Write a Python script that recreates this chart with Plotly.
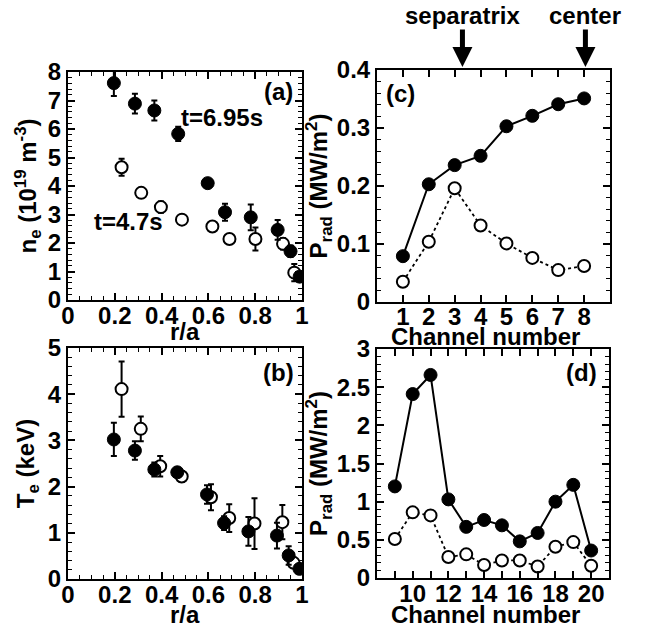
import plotly.graph_objects as go

W, H = 648, 633
FONT = "Liberation Sans"

# ---------------- data ----------------
# (a) electron density
ne_r_695 = [0.196, 0.286, 0.369, 0.471, 0.597, 0.671, 0.781, 0.896, 0.951, 0.990]
ne_695 = [7.61, 6.89, 6.65, 5.83, 4.10, 3.08, 2.90, 2.46, 1.71, 0.82]
ne_err_695 = [0.45, 0.35, 0.35, 0.25, 0.15, 0.30, 0.45, 0.35, 0.20, 0.10]
ne_r_47 = [0.229, 0.313, 0.397, 0.487, 0.617, 0.690, 0.801, 0.919, 0.967]
ne_47 = [4.66, 3.76, 3.26, 2.82, 2.58, 2.14, 2.14, 1.97, 0.96]
ne_err_47 = [0.30, 0.10, 0.20, 0.10, 0.10, 0.10, 0.40, 0.20, 0.30]

# (b) electron temperature
te_r_695 = [0.196, 0.286, 0.369, 0.467, 0.594, 0.667, 0.771, 0.893, 0.943, 0.989]
te_695 = [3.02, 2.78, 2.37, 2.31, 1.83, 1.21, 1.03, 0.94, 0.51, 0.22]
te_err_695 = [0.36, 0.20, 0.15, 0.10, 0.20, 0.15, 0.31, 0.28, 0.20, 0.05]
te_r_47 = [0.229, 0.311, 0.394, 0.486, 0.611, 0.689, 0.797, 0.916, 0.964]
te_47 = [4.11, 3.25, 2.44, 2.22, 1.77, 1.32, 1.20, 1.23, 0.35]
te_err_47 = [0.60, 0.27, 0.22, 0.12, 0.28, 0.30, 0.55, 0.37, 0.10]

# (c) radiated power, channels 1-8
ch_c = [1, 2, 3, 4, 5, 6, 7, 8]
prad_c_695 = [0.079, 0.203, 0.236, 0.252, 0.303, 0.321, 0.341, 0.351]
prad_c_47 = [0.035, 0.104, 0.196, 0.132, 0.101, 0.076, 0.055, 0.062]

# (d) radiated power, channels 9-20
ch_d = [9, 10, 11, 12, 13, 14, 15, 16, 17, 18, 19, 20]
prad_d_695 = [1.20, 2.41, 2.66, 1.03, 0.67, 0.76, 0.69, 0.48, 0.59, 1.00, 1.22, 0.36]
prad_d_47 = [0.51, 0.86, 0.82, 0.275, 0.31, 0.17, 0.23, 0.23, 0.15, 0.41, 0.47, 0.16]

ch_d_ticktext = [str(c) if c % 2 == 0 else "" for c in ch_d]

# ---------------- figure ----------------
fig = go.Figure()

filled = dict(color="black", size=13, line=dict(color="black", width=1))
opened = dict(color="white", size=12, line=dict(color="black", width=2))
eb = dict(type="data", color="black", thickness=2, width=3, visible=True)

# (a)
fig.add_trace(go.Scatter(x=ne_r_47, y=ne_47, mode="markers", marker=opened,
                         error_y=dict(array=ne_err_47, **eb), xaxis="x", yaxis="y"))
fig.add_trace(go.Scatter(x=ne_r_695, y=ne_695, mode="markers", marker=filled,
                         error_y=dict(array=ne_err_695, **eb), xaxis="x", yaxis="y"))
# (b)
fig.add_trace(go.Scatter(x=te_r_47, y=te_47, mode="markers", marker=opened,
                         error_y=dict(array=te_err_47, **eb), xaxis="x2", yaxis="y2"))
fig.add_trace(go.Scatter(x=te_r_695, y=te_695, mode="markers", marker=filled,
                         error_y=dict(array=te_err_695, **eb), xaxis="x2", yaxis="y2"))
# (c)
fig.add_trace(go.Scatter(x=ch_c, y=prad_c_47, mode="lines+markers", marker=opened,
                         line=dict(color="black", width=1.8, dash="dot"), xaxis="x3", yaxis="y3"))
fig.add_trace(go.Scatter(x=ch_c, y=prad_c_695, mode="lines+markers", marker=filled,
                         line=dict(color="black", width=2), xaxis="x3", yaxis="y3"))
# (d)
fig.add_trace(go.Scatter(x=ch_d, y=prad_d_47, mode="lines+markers", marker=opened,
                         line=dict(color="black", width=1.8, dash="dot"), xaxis="x4", yaxis="y4"))
fig.add_trace(go.Scatter(x=ch_d, y=prad_d_695, mode="lines+markers", marker=filled,
                         line=dict(color="black", width=2), xaxis="x4", yaxis="y4"))


def hdom(p0, p1):
    return [p0 / W, p1 / W]


def vdom(top, bottom):
    return [1 - bottom / H, 1 - top / H]


tfont = dict(family=FONT, size=24, color="black", weight="bold")


def ax(**kw):
    base = dict(showline=True, linewidth=2, linecolor="black", mirror="allticks",
                ticks="inside", ticklen=7, tickwidth=1.5, tickcolor="black",
                showgrid=False, zeroline=False, tickfont=tfont, automargin=False,
                title=dict(font=tfont))
    base.update(kw)
    return base


def minor(d, ln=4):
    return dict(ticks="inside", dtick=d, ticklen=ln, tickwidth=1.2, tickcolor="black", showgrid=False)


XSTAND = -7

fig.update_layout(
    width=W, height=H, margin=dict(l=0, r=0, t=0, b=0),
    paper_bgcolor="white", plot_bgcolor="white", showlegend=False,
    xaxis=ax(domain=hdom(68, 302), anchor="y", range=[0, 1], dtick=0.2, minor=minor(0.05),
             ticklabelstandoff=XSTAND),
    yaxis=ax(domain=vdom(72, 300), anchor="x", range=[0, 8], dtick=1, minor=minor(0.2),
             title=dict(text="n<sub>e</sub> (10<sup>19</sup> m<sup>-3</sup>)", font=tfont, standoff=4)),
    xaxis2=ax(domain=hdom(68, 302), anchor="y2", range=[0, 1], dtick=0.2, minor=minor(0.05),
              ticklabelstandoff=XSTAND),
    yaxis2=ax(domain=vdom(348, 579), anchor="x2", range=[0, 5], dtick=1, minor=minor(0.2),
              title=dict(text="T<sub>e</sub> (keV)", font=tfont, standoff=6)),
    xaxis3=ax(domain=hdom(377, 610), anchor="y3", range=[0, 9], tickvals=ch_c,
              ticklabelstandoff=XSTAND - 1),
    yaxis3=ax(domain=vdom(70, 302), anchor="x3", range=[0, 0.4], dtick=0.1, minor=minor(0.02),
              title=dict(text="P<sub>rad</sub> (MW/m<sup>2</sup>)", font=tfont, standoff=2)),
    xaxis4=ax(domain=hdom(377, 609), anchor="y4", range=[8, 21], tickvals=ch_d,
              ticktext=ch_d_ticktext, ticklabelstandoff=XSTAND),
    yaxis4=ax(domain=vdom(349, 578), anchor="x4", range=[0, 3], dtick=0.5, minor=minor(0.1),
              title=dict(text="P<sub>rad</sub> (MW/m<sup>2</sup>)", font=tfont, standoff=2)),
)

afont = dict(family=FONT, size=24, color="black", weight="bold")
annots = [
    dict(text="(a)", x=0.90, y=7.3, xref="x", yref="y"),
    dict(text="t=6.95s", x=0.66, y=6.4, xref="x", yref="y"),
    dict(text="t=4.7s", x=0.26, y=2.75, xref="x", yref="y"),
    dict(text="(b)", x=0.90, y=4.48, xref="x2", yref="y2"),
    dict(text="(c)", x=0.9, y=0.36, xref="x3", yref="y3"),
    dict(text="(d)", x=19.45, y=2.69, xref="x4", yref="y4"),
    dict(text="separatrix", x=3.3, y=1 - 16 / H, xref="x3", yref="paper"),
    dict(text="center", x=8.05, y=1 - 16 / H, xref="x3", yref="paper"),
    # x-axis titles
    dict(text="r/a", x=185 / W, y=1 - 331 / H, xref="paper", yref="paper"),
    dict(text="r/a", x=185 / W, y=1 - 614 / H, xref="paper", yref="paper"),
    dict(text="Channel number", x=485 / W, y=1 - 336 / H, xref="paper", yref="paper"),
    dict(text="Channel number", x=485 / W, y=1 - 614 / H, xref="paper", yref="paper"),
]
for a in annots:
    fig.add_annotation(showarrow=False, font=afont, xanchor="center", yanchor="middle", **a)

for xv in [3.3, 8.05]:
    fig.add_annotation(x=xv, y=1 - 67 / H, xref="x3", yref="paper", text="",
                       showarrow=True, arrowhead=2, arrowsize=0.8, arrowwidth=5,
                       arrowcolor="black", ax=0, ay=-39, standoff=0)

fig.write_html("out.html", config={"displayModeBar": False},
               post_script="document.body.style.margin='0';document.body.style.padding='0';"
                           "document.body.style.overflow='hidden';")
